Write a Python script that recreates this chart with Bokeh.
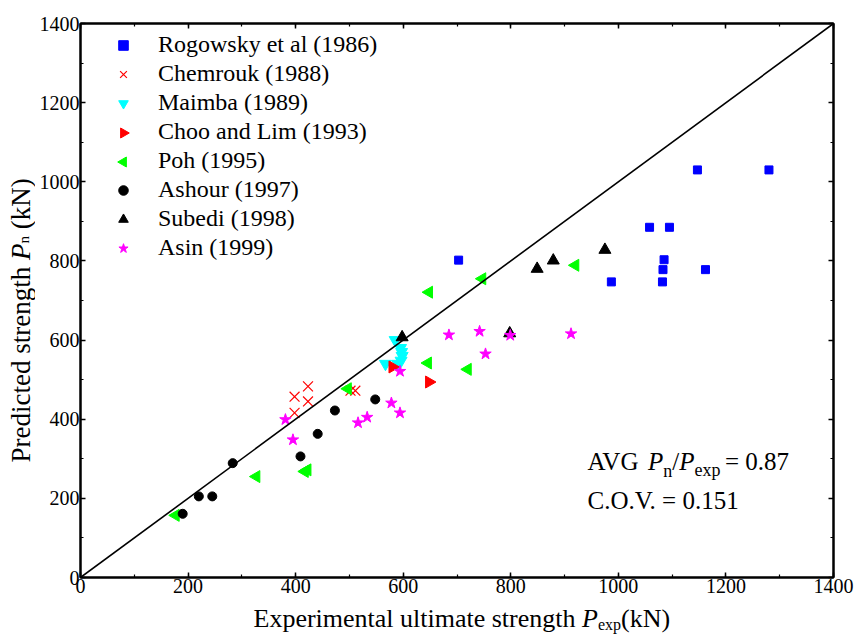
import math
from bokeh.plotting import figure
from bokeh.layouts import row, column
from bokeh.models import (LinearAxis, Label, Legend, LegendItem, Slope, Range1d,
                          SingleIntervalTicker)
from bokeh.embed import file_html
from bokeh.resources import INLINE

# ---------------- data (kN) ----------------
rogowsky_x = [703, 987, 1082, 1083, 1085, 1058, 1095, 1147, 1280, 1162]
rogowsky_y = [802, 747, 747, 778, 803, 885, 885, 1030, 1030, 778]

chemrouk_x = [398, 398, 423, 423, 502, 511]
chemrouk_y = [416, 457, 445, 483, 472, 472]

maimba_x = [585, 595, 597, 598, 596, 590, 567]
maimba_y = [600, 580, 570, 560, 548, 540, 540]

choo_x = [580, 648]
choo_y = [532, 494]

poh_x = [177, 327, 417, 422, 497, 646, 720, 648, 747, 920]
poh_y = [157, 255, 268, 272, 477, 542, 526, 721, 755, 789]

ashour_x = [190, 220, 245, 283, 409, 441, 473, 548]
ashour_y = [161, 205, 205, 289, 306, 363, 422, 450]

subedi_x = [598, 798, 849, 879, 975]
subedi_y = [607, 617, 780, 801, 828]

asin_x = [381, 395, 516, 533, 578, 594, 594, 685, 742, 799, 753, 912]
asin_y = [399, 348, 391, 405, 441, 416, 521, 613, 622, 612, 565, 616]

series_labels = ["Rogowsky et al (1986)", "Chemrouk (1988)", "Maimba (1989)",
                 "Choo and Lim (1993)", "Poh (1995)", "Ashour (1997)",
                 "Subedi (1998)", "Asin (1999)"]

axis_min, axis_max, tick_step = 0, 1400, 200
equality_slope = 1.0
avg_ratio = "0.87"
cov_value = "0.151"

FONT = "Liberation Serif"

# ---------------- layout constants (pixels) ----------------
CANVAS_W, CANVAS_H = 859, 637
FRAME_L, FRAME_B = 80, 577       # frame left / bottom in page pixels
YT_W = 35                        # strip holding the rotated y title
XT_H = 36                        # strip holding the x title
P_W, P_H = CANVAS_W - YT_W, CANVAS_H - XT_H
B_LEFT, B_RIGHT, B_TOP, B_BOTTOM = FRAME_L - YT_W, 26, 23, P_H - FRAME_B
FRAME_W = P_W - B_LEFT - B_RIGHT
FRAME_H = P_H - B_TOP - B_BOTTOM
BASE_FIX = 7                     # Label anchor sits this far above the drawn baseline

# Times / Liberation Serif advance widths (1/1000 em)
W = {' ': 250, '(': 333, ')': 333, '.': 250, '/': 278, '=': 564,
     'A': 722, 'C': 667, 'E': 611, 'G': 722, 'L': 611, 'N': 722, 'O': 722,
     'P': 556, 'R': 667, 'V': 722,
     'a': 444, 'c': 444, 'd': 500, 'e': 444, 'g': 500, 'h': 500, 'i': 278,
     'k': 500, 'l': 278, 'm': 778, 'n': 500, 'o': 500, 'p': 500, 'r': 333,
     's': 389, 't': 278, 'u': 500, 'w': 722, 'x': 500, 'y': 500}
for d in "0123456789":
    W[d] = 500


def tw(s, size, italic=False):
    if italic and s == "P":
        return 611 * size / 1000
    return sum(W.get(c, 500) for c in s) * size / 1000


p = figure(width=P_W, height=P_H, output_backend="svg", toolbar_location=None,
           x_range=Range1d(axis_min, axis_max), y_range=Range1d(axis_min, axis_max),
           min_border_left=B_LEFT, min_border_right=B_RIGHT, min_border_top=B_TOP,
           min_border_bottom=B_BOTTOM, x_axis_type=None, y_axis_type=None,
           frame_align=False)
p.background_fill_color = "white"
p.border_fill_color = "white"
p.outline_line_color = "black"
p.outline_line_width = 2
p.xgrid.visible = False
p.ygrid.visible = False


def make_axis(show_labels):
    ax = LinearAxis(ticker=SingleIntervalTicker(interval=tick_step, num_minor_ticks=2))
    ax.axis_line_color = "black"
    ax.axis_line_width = 2
    ax.major_tick_in = 5
    ax.major_tick_out = 0
    ax.minor_tick_in = 3
    ax.minor_tick_out = 0
    ax.major_tick_line_width = 1.5
    ax.minor_tick_line_width = 1.2
    if show_labels:
        ax.major_label_text_font = FONT
        ax.major_label_text_font_size = "20px"
        ax.major_label_text_color = "black"
        ax.major_label_standoff = 1
    else:
        ax.major_label_text_font_size = "0px"
        ax.major_label_text_color = None
        ax.major_label_standoff = 0
    return ax


p.add_layout(make_axis(True), "below")
p.add_layout(make_axis(True), "left")
p.add_layout(make_axis(False), "above")
p.add_layout(make_axis(False), "right")

p.add_layout(Slope(gradient=equality_slope, y_intercept=0, line_color="black", line_width=1.6))

r_rog = p.scatter(rogowsky_x, rogowsky_y, marker="square", size=8,
                  fill_color="#0000FF", line_color="#0000FF")
r_che = p.scatter(chemrouk_x, chemrouk_y, marker="x", size=14,
                  line_color="#FF0000", line_width=1.2)
r_mai = p.scatter(maimba_x, maimba_y, marker="inverted_triangle", size=12,
                  fill_color="#00FFFF", line_color="#00FFFF")
r_cho = p.scatter(choo_x, choo_y, marker="triangle", size=12, angle=-math.pi / 2,
                  fill_color="#FF0000", line_color="#FF0000")
r_poh = p.scatter(poh_x, poh_y, marker="triangle", size=12, angle=math.pi / 2,
                  fill_color="#00FF00", line_color="#00FF00")
r_ash = p.scatter(ashour_x, ashour_y, marker="circle", size=9,
                  fill_color="black", line_color="black")
r_sub = p.scatter(subedi_x, subedi_y, marker="triangle", size=12,
                  fill_color="black", line_color="black")
r_asi = p.scatter(asin_x, asin_y, marker="star", size=12,
                  fill_color="#FF00FF", line_color="#FF00FF")

# legend glyphs are never rotated by Bokeh, so the two sideways triangles get
# invisible stand-ins in the legend plus rotated markers drawn on top of the rows
ghost_cho = p.scatter([], [], marker="triangle", fill_alpha=0, line_alpha=0)
ghost_poh = p.scatter([], [], marker="triangle", fill_alpha=0, line_alpha=0)

LEG_MARGIN, LEG_GLYPH_W, LEG_ROW = 8, 70, 29     # px
LEG_FIRST = LEG_MARGIN + 14.5                    # first row centre below frame top
legend = Legend(items=[
    LegendItem(label=series_labels[0], renderers=[r_rog]),
    LegendItem(label=series_labels[1], renderers=[r_che]),
    LegendItem(label=series_labels[2], renderers=[r_mai]),
    LegendItem(label=series_labels[3], renderers=[ghost_cho]),
    LegendItem(label=series_labels[4], renderers=[ghost_poh]),
    LegendItem(label=series_labels[5], renderers=[r_ash]),
    LegendItem(label=series_labels[6], renderers=[r_sub]),
    LegendItem(label=series_labels[7], renderers=[r_asi]),
], location="top_left")
legend.margin = LEG_MARGIN
legend.padding = 0
legend.glyph_width = LEG_GLYPH_W
legend.glyph_height = 24
legend.label_height = 27
legend.label_standoff = 0
legend.spacing = 2
legend.label_text_font = FONT
legend.label_text_font_size = "24px"
legend.label_text_color = "black"
legend.background_fill_alpha = 0
legend.border_line_color = None
p.add_layout(legend, "center")


def px_to_data_x(px):
    return axis_min + px * (axis_max - axis_min) / FRAME_W


def px_to_data_y(px_from_top):
    return axis_max - px_from_top * (axis_max - axis_min) / FRAME_H


leg_cx = px_to_data_x(LEG_MARGIN + LEG_GLYPH_W / 2)
p.scatter([leg_cx], [px_to_data_y(LEG_FIRST + 3 * LEG_ROW)], marker="triangle", size=10,
          angle=-math.pi / 2, fill_color="#FF0000", line_color="#FF0000")
p.scatter([leg_cx], [px_to_data_y(LEG_FIRST + 4 * LEG_ROW)], marker="triangle", size=10,
          angle=math.pi / 2, fill_color="#00FF00", line_color="#00FF00")


def piece(fig, x, y, text, size, italic=False, angle=0.0):
    lab = Label(x=x, y=y, x_units="screen", y_units="screen", text=text,
                text_font=FONT, text_font_size=f"{size}px",
                text_font_style="italic" if italic else "normal",
                text_color="black", text_align="left", text_baseline="alphabetic",
                angle=angle)
    fig.add_layout(lab)


# annotation inside the plot (baselines measured from frame bottom)
ax0, ab1, ab2, fs, ss = 507, 109 + BASE_FIX, 70 + BASE_FIX, 25, 18
piece(p, ax0, ab1, "AVG", fs)
cx = ax0 + tw("AVG ", fs)
piece(p, cx, ab1, "P", fs, italic=True)
cx += tw("P", fs, True)
piece(p, cx, ab1 - 9, "n", ss)
cx += tw("n", ss)
piece(p, cx, ab1, "/", fs)
cx += tw("/", fs)
piece(p, cx, ab1, "P", fs, italic=True)
cx += tw("P", fs, True)
piece(p, cx, ab1 - 8, "exp", ss)
cx += tw("exp", ss) + tw(" ", ss)
piece(p, cx, ab1, "= " + avg_ratio, fs)
piece(p, ax0, ab2, "C.O.V. = " + cov_value, fs)


def strip(w, h):
    f = figure(width=w, height=h, output_backend="svg", toolbar_location=None,
               x_range=Range1d(0, w), y_range=Range1d(0, h),
               x_axis_location=None, y_axis_location=None,
               min_border=0, min_border_left=0, min_border_right=0,
               min_border_top=0, min_border_bottom=0, frame_align=False)
    f.outline_line_color = None
    f.background_fill_color = "white"
    f.border_fill_color = "white"
    f.xgrid.visible = False
    f.ygrid.visible = False
    return f


# x-axis title strip: "Experimental ultimate strength P_exp(kN)"
fx = strip(P_W, XT_H)
x_base_page = 625
xs, xb, fs, ss = 253 - YT_W, CANVAS_H - x_base_page + BASE_FIX, 26, 16
t1 = "Experimental ultimate strength"
piece(fx, xs, xb, t1, fs)
x2 = xs + tw(t1 + " ", fs)
piece(fx, x2, xb, "P", fs, italic=True)
x3 = x2 + tw("P", fs, True)
piece(fx, x3, xb - 6, "exp", ss)
x4 = x3 + tw("exp", ss)
piece(fx, x4, xb, "(kN)", fs)

# y-axis title strip: "Predicted strength P_n (kN)" read bottom to top
fy = strip(YT_W, CANVAS_H)
ys, yb, fs, ss = CANVAS_H - 462, 27 - BASE_FIX, 27, 15
ang = math.pi / 2
t1 = "Predicted strength"
piece(fy, yb, ys, t1, fs, angle=ang)
y2 = ys + tw(t1 + " ", fs)
piece(fy, yb, y2, "P", fs, italic=True, angle=ang)
y3 = y2 + tw("P", fs, True)
piece(fy, yb + 3, y3, "n", ss, angle=ang)
y4 = y3 + tw("n", ss) + tw(" ", fs)
piece(fy, yb, y4, "(kN)", fs, angle=ang)

layout = row(fy, column(p, fx, spacing=0), spacing=0)

open("out.html", "w").write(file_html(layout, INLINE))
